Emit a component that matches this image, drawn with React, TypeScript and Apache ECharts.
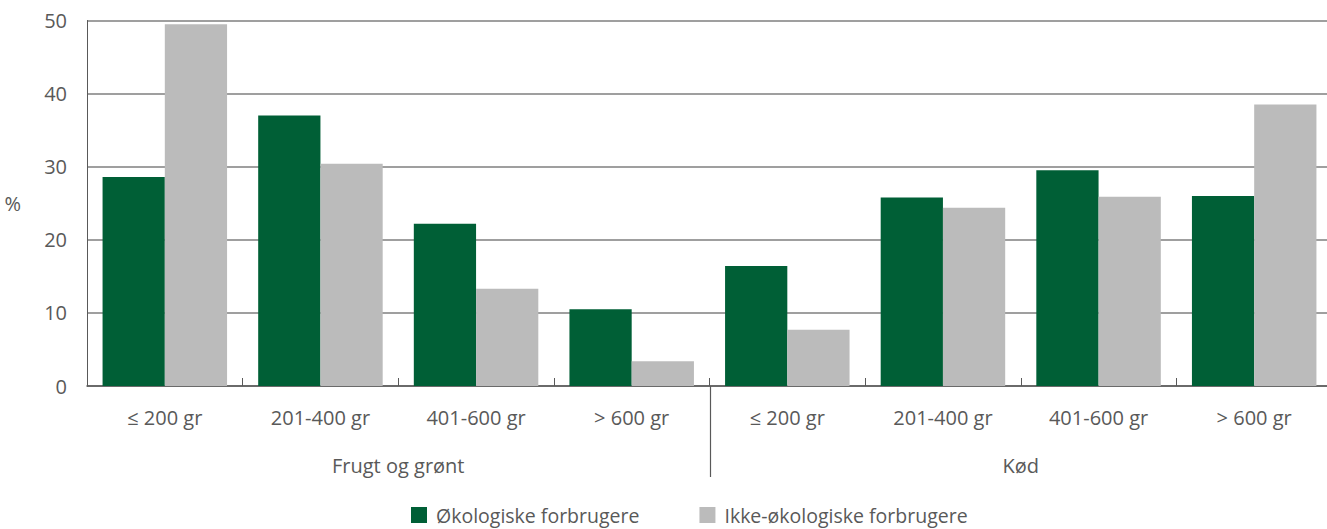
import React, { useEffect, useRef } from "react";
import * as echarts from "echarts";

const categories = ["≤ 200 gr", "201-400 gr", "401-600 gr", "> 600 gr", "≤ 200 gr", "201-400 gr", "401-600 gr", "> 600 gr"];
const groups = ["Frugt og grønt", "Kød"];
const seriesNames = ["Økologiske forbrugere", "Ikke-økologiske forbrugere"];
const organic = [28.6, 37.0, 22.2, 10.5, 16.4, 25.8, 29.5, 26.0];
const nonOrganic = [49.5, 30.4, 13.3, 3.4, 7.7, 24.4, 25.9, 38.5];
const yTicks = [0, 10, 20, 30, 40, 50];

const FONT = "Open Sans";
const TXT = "#595959";
const FS = 20;

export default function App() {
  const ref = useRef<HTMLDivElement>(null);
  useEffect(() => {
    document.body.style.margin = "0";
    document.body.style.overflow = "hidden";
    const chart = echarts.init(ref.current!, undefined, { renderer: "svg" });
    chart.setOption({
      animation: false,
      textStyle: { fontFamily: FONT },
      grid: { left: 87, right: 8, top: 20.5, bottom: 143, containLabel: false },
      legend: {
        data: seriesNames,
        left: 411,
        top: 505,
        padding: 0,
        itemWidth: 16,
        itemHeight: 16,
        itemGap: 60,
        icon: "rect",
        textStyle: { fontFamily: FONT, fontSize: 19.5, color: TXT, padding: [0, 0, 0, 4] },
      },
      xAxis: [
        {
          type: "category",
          data: categories,
          axisLine: { lineStyle: { color: TXT, width: 1.5 } },
          axisTick: { show: true, inside: true, length: 8, lineStyle: { color: TXT } },
          axisLabel: { margin: 21, fontSize: FS, color: TXT, fontFamily: FONT, interval: 0 },
        },
        {
          type: "category",
          data: groups,
          position: "bottom",
          axisLine: { show: false },
          axisTick: { show: false },
          axisLabel: { margin: 69, fontSize: FS, color: TXT, fontFamily: FONT },
        },
      ],
      yAxis: {
        type: "value",
        min: yTicks[0],
        max: yTicks[yTicks.length - 1],
        interval: 10,
        name: "%",
        nameLocation: "middle",
        nameRotate: 0,
        nameGap: 66,
        nameTextStyle: { fontSize: FS, color: TXT, fontFamily: FONT },
        axisLine: { show: true, lineStyle: { color: TXT } },
        axisTick: { show: false },
        axisLabel: { margin: 20, fontSize: FS, color: TXT, fontFamily: FONT },
        splitLine: { lineStyle: { color: "#7f7f7f", width: 1.5 } },
      },
      series: [
        {
          name: seriesNames[0],
          type: "bar",
          data: organic,
          itemStyle: { color: "#005F36" },
          barGap: "0%",
          barCategoryGap: "20%",
        },
        {
          name: seriesNames[1],
          type: "bar",
          data: nonOrganic,
          itemStyle: { color: "#BBBBBB" },
          barGap: "0%",
          barCategoryGap: "20%",
        },
      ],
    });
    const c3 = chart.convertToPixel({ xAxisIndex: 0 }, 3) as number;
    const c4 = chart.convertToPixel({ xAxisIndex: 0 }, 4) as number;
    const yb = chart.convertToPixel({ yAxisIndex: 0 }, 0) as number;
    const xb = Math.round((c3 + c4) / 2) + 0.5;
    chart.setOption({
      graphic: [
        {
          type: "line",
          shape: { x1: xb, y1: yb, x2: xb, y2: yb + 91 },
          style: { stroke: TXT, lineWidth: 1.2 },
        },
      ],
    });
    return () => chart.dispose();
  }, []);
  return (
    <div style={{ width: 1327, height: 529, overflow: "hidden" }}>
      <div ref={ref} style={{ width: 1340, height: 529 }} />
    </div>
  );
}
